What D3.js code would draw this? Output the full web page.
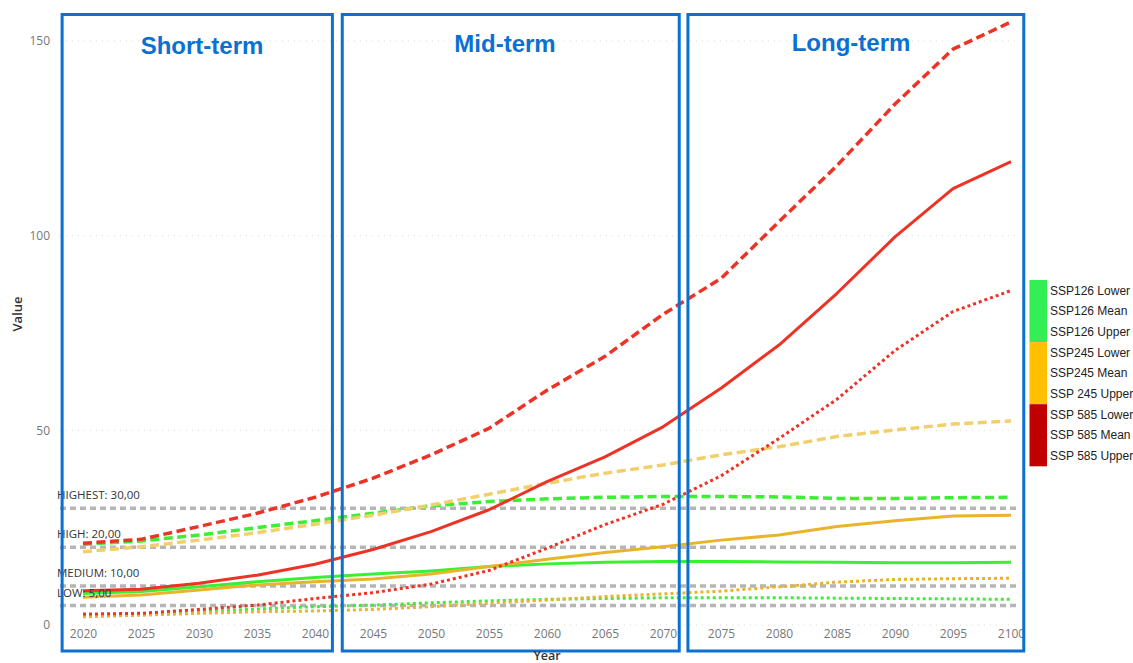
<!DOCTYPE html>
<html>
<head>
<meta charset="utf-8">
<script src="https://cdn.jsdelivr.net/npm/d3@7"></script>
<style>
  html, body { margin: 0; padding: 0; background: #ffffff; }
  svg { display: block; }
</style>
</head>
<body>
<svg id="chart" width="1133" height="663"></svg>
<script>
// Projection years (every 5 years)
const years = [2020, 2025, 2030, 2035, 2040, 2045, 2050, 2055, 2060, 2065, 2070, 2075, 2080, 2085, 2090, 2095, 2100];

// SSP1-2.6
const ssp126Lower = [2.6, 2.9, 3.4, 4.1, 4.7, 5.1, 5.7, 6.2, 6.6, 6.8, 7.0, 7.0, 7.0, 6.9, 6.8, 6.7, 6.6];
const ssp126Mean  = [8.1, 8.6, 9.8, 11.1, 12.2, 13.1, 13.9, 15.0, 15.7, 16.1, 16.3, 16.3, 16.2, 16.1, 16.0, 16.0, 16.1];
const ssp126Upper = [20.7, 21.6, 23.1, 25.0, 26.8, 28.7, 30.6, 31.7, 32.4, 32.8, 33.0, 33.0, 32.9, 32.5, 32.5, 32.7, 32.8];

// SSP2-4.5
const ssp245Lower = [2.1, 2.5, 3.0, 3.4, 3.6, 4.0, 4.7, 5.6, 6.4, 7.3, 8.0, 8.7, 9.8, 11.0, 11.7, 11.9, 12.0];
const ssp245Mean  = [7.1, 7.7, 9.0, 10.3, 11.1, 11.8, 13.1, 15.0, 16.9, 18.6, 20.1, 21.8, 23.1, 25.3, 26.8, 28.0, 28.2];
const ssp245Upper = [18.8, 20.1, 21.8, 23.7, 25.9, 28.2, 30.8, 33.6, 36.4, 39.0, 41.1, 43.7, 45.8, 48.4, 50.1, 51.6, 52.4];

// SSP5-8.5
const ssp585Lower = [2.8, 3.0, 4.0, 5.1, 6.8, 8.3, 10.5, 14.0, 19.7, 25.8, 31.0, 38.3, 47.9, 58.0, 70.5, 80.5, 85.9];
const ssp585Mean  = [8.8, 9.2, 10.7, 12.8, 15.6, 19.4, 24.0, 29.6, 36.8, 43.2, 50.9, 60.8, 71.9, 85.2, 99.7, 112.1, 119.0];
const ssp585Upper = [21.0, 22.0, 25.3, 28.7, 32.8, 37.7, 43.7, 50.5, 60.3, 69.0, 79.8, 89.0, 103.6, 118.0, 133.8, 147.9, 154.9];

// Reference thresholds
const thresholdNames  = ["HIGHEST", "HIGH", "MEDIUM", "LOW"];
const thresholdValues = [30, 20, 10, 5];

// Period windows
const periodNames = ["Short-term", "Mid-term", "Long-term"];

// Axis ticks
const yTicks = [0, 50, 100, 150];
const xTicks = years;

// Legend
const legendLabels = ["SSP126 Lower", "SSP126 Mean", "SSP126 Upper",
                      "SSP245 Lower", "SSP245 Mean", "SSP 245 Upper",
                      "SSP 585 Lower", "SSP 585 Mean", "SSP 585 Upper"];
const legendGroups = ["SSP126", "SSP245", "SSP585"];

// ---- styling ----
const groupColor = { SSP126: "#3cee34", SSP245: "#e9b42c", SSP585: "#ec3326" };
const groupColorUpper = { SSP126: "#3cee34", SSP245: "#f1d06c", SSP585: "#ec3326" };
const legendColor = { SSP126: "#33ee55", SSP245: "#ffc000", SSP585: "#c00000" };
const boxColor = "#0a70d2";
const uiFont = "'Segoe UI', 'Open Sans', 'Noto Sans', sans-serif";
const arialFont = "'Liberation Sans', Arial, sans-serif";

const series = [
  { group: "SSP126", kind: "Lower", values: ssp126Lower },
  { group: "SSP126", kind: "Mean",  values: ssp126Mean },
  { group: "SSP126", kind: "Upper", values: ssp126Upper },
  { group: "SSP245", kind: "Lower", values: ssp245Lower },
  { group: "SSP245", kind: "Mean",  values: ssp245Mean },
  { group: "SSP245", kind: "Upper", values: ssp245Upper },
  { group: "SSP585", kind: "Lower", values: ssp585Lower },
  { group: "SSP585", kind: "Mean",  values: ssp585Mean },
  { group: "SSP585", kind: "Upper", values: ssp585Upper }
];

const svg = d3.select("#chart");

const x = d3.scaleLinear().domain([2020, 2100]).range([83, 1011]);
const y = d3.scaleLinear().domain([0, 150]).range([625, 41]);

const gridLeft = 60, gridRight = 1020;

// horizontal dotted gridlines
svg.append("g").selectAll("line").data(yTicks).join("line")
  .attr("x1", gridLeft).attr("x2", gridRight)
  .attr("y1", d => y(d)).attr("y2", d => y(d))
  .attr("stroke", "#d9d9d9").attr("stroke-width", 1)
  .attr("stroke-dasharray", "1,5");

// y axis labels
const yAxis = d3.axisLeft(y).tickValues(yTicks).tickSize(0).tickPadding(0).tickFormat(d3.format("d"));
svg.append("g").attr("transform", "translate(50,0)").call(yAxis)
  .call(g => g.select(".domain").remove())
  .call(g => g.selectAll("text").attr("fill", "#777").attr("font-size", 12).attr("font-family", uiFont));

// x axis labels
const xAxis = d3.axisBottom(x).tickValues(xTicks).tickSize(0).tickPadding(0).tickFormat(d3.format("d"));
svg.append("g").attr("transform", "translate(0,629)").call(xAxis)
  .call(g => g.select(".domain").remove())
  .call(g => g.selectAll("text").attr("fill", "#777").attr("font-size", 12).attr("font-family", uiFont));

// threshold lines
svg.append("g").selectAll("line").data(thresholdValues).join("line")
  .attr("x1", gridLeft).attr("x2", gridRight)
  .attr("y1", d => y(d)).attr("y2", d => y(d))
  .attr("stroke", "#b5b5b5").attr("stroke-width", 3.5)
  .attr("stroke-dasharray", "6,4");

// data lines
const line = d3.line()
  .x((d, i) => x(years[i]))
  .y(d => y(d));

const dashFor = { Lower: "3,3", Mean: null, Upper: "9,4.5" };
const widthFor = { Lower: 3, Mean: 3, Upper: 3.5 };

svg.append("g").selectAll("path").data(series).join("path")
  .attr("d", d => line(d.values))
  .attr("fill", "none")
  .attr("stroke", d => d.kind === "Upper" ? groupColorUpper[d.group] : groupColor[d.group])
  .attr("stroke-width", d => widthFor[d.kind])
  .attr("stroke-dasharray", d => dashFor[d.kind])
  .attr("stroke-linejoin", "round");

// threshold labels
svg.append("g").selectAll("text").data(thresholdValues).join("text")
  .attr("x", 57)
  .attr("y", d => y(d) - 9)
  .attr("font-family", uiFont).attr("font-size", 11.5).attr("fill", "#333")
  .text((d, i) => `${thresholdNames[i]}: ${d3.format(".2f")(d).replace(".", ",")}`);

// period windows (years spanned by each box)
const periodStart = [2018.2, 2042.35, 2072.15];
const periodEnd   = [2041.5, 2071.4, 2101.1];
const boxTop = 14.5, boxBottom = 651;
const titleX = [202, 505, 851];
const titleY = [54, 52, 51];

const boxes = svg.append("g");
boxes.selectAll("rect").data(periodNames).join("rect")
  .attr("x", (d, i) => x(periodStart[i]))
  .attr("y", boxTop)
  .attr("width", (d, i) => x(periodEnd[i]) - x(periodStart[i]))
  .attr("height", boxBottom - boxTop)
  .attr("fill", "none")
  .attr("stroke", boxColor).attr("stroke-width", 3);

boxes.selectAll("text").data(periodNames).join("text")
  .attr("x", (d, i) => titleX[i])
  .attr("y", (d, i) => titleY[i])
  .attr("text-anchor", "middle")
  .attr("font-family", arialFont).attr("font-size", 24).attr("font-weight", "bold")
  .attr("fill", boxColor)
  .text(d => d);

// axis titles
svg.append("text")
  .attr("x", 547).attr("y", 660)
  .attr("text-anchor", "middle")
  .attr("font-family", uiFont).attr("font-size", 12.5).attr("font-weight", 600).attr("fill", "#333")
  .text("Year");

svg.append("text")
  .attr("transform", "translate(22,314) rotate(-90)")
  .attr("text-anchor", "middle")
  .attr("font-family", uiFont).attr("font-size", 13).attr("font-weight", 600).attr("fill", "#333")
  .text("Value");

// legend
const legendTop = 280, legendStep = 20.7;
const legend = svg.append("g");
legend.selectAll("rect").data(legendGroups).join("rect")
  .attr("x", 1029.5)
  .attr("y", (d, i) => legendTop + i * 3 * legendStep)
  .attr("width", 17.5)
  .attr("height", 3 * legendStep)
  .attr("fill", d => legendColor[d]);

legend.selectAll("text").data(legendLabels).join("text")
  .attr("x", 1050)
  .attr("y", (d, i) => legendTop + legendStep * (i + 0.5))
  .attr("dy", "0.35em")
  .attr("font-family", arialFont).attr("font-size", 12).attr("fill", "#222")
  .text(d => d);
</script>
</body>
</html>
